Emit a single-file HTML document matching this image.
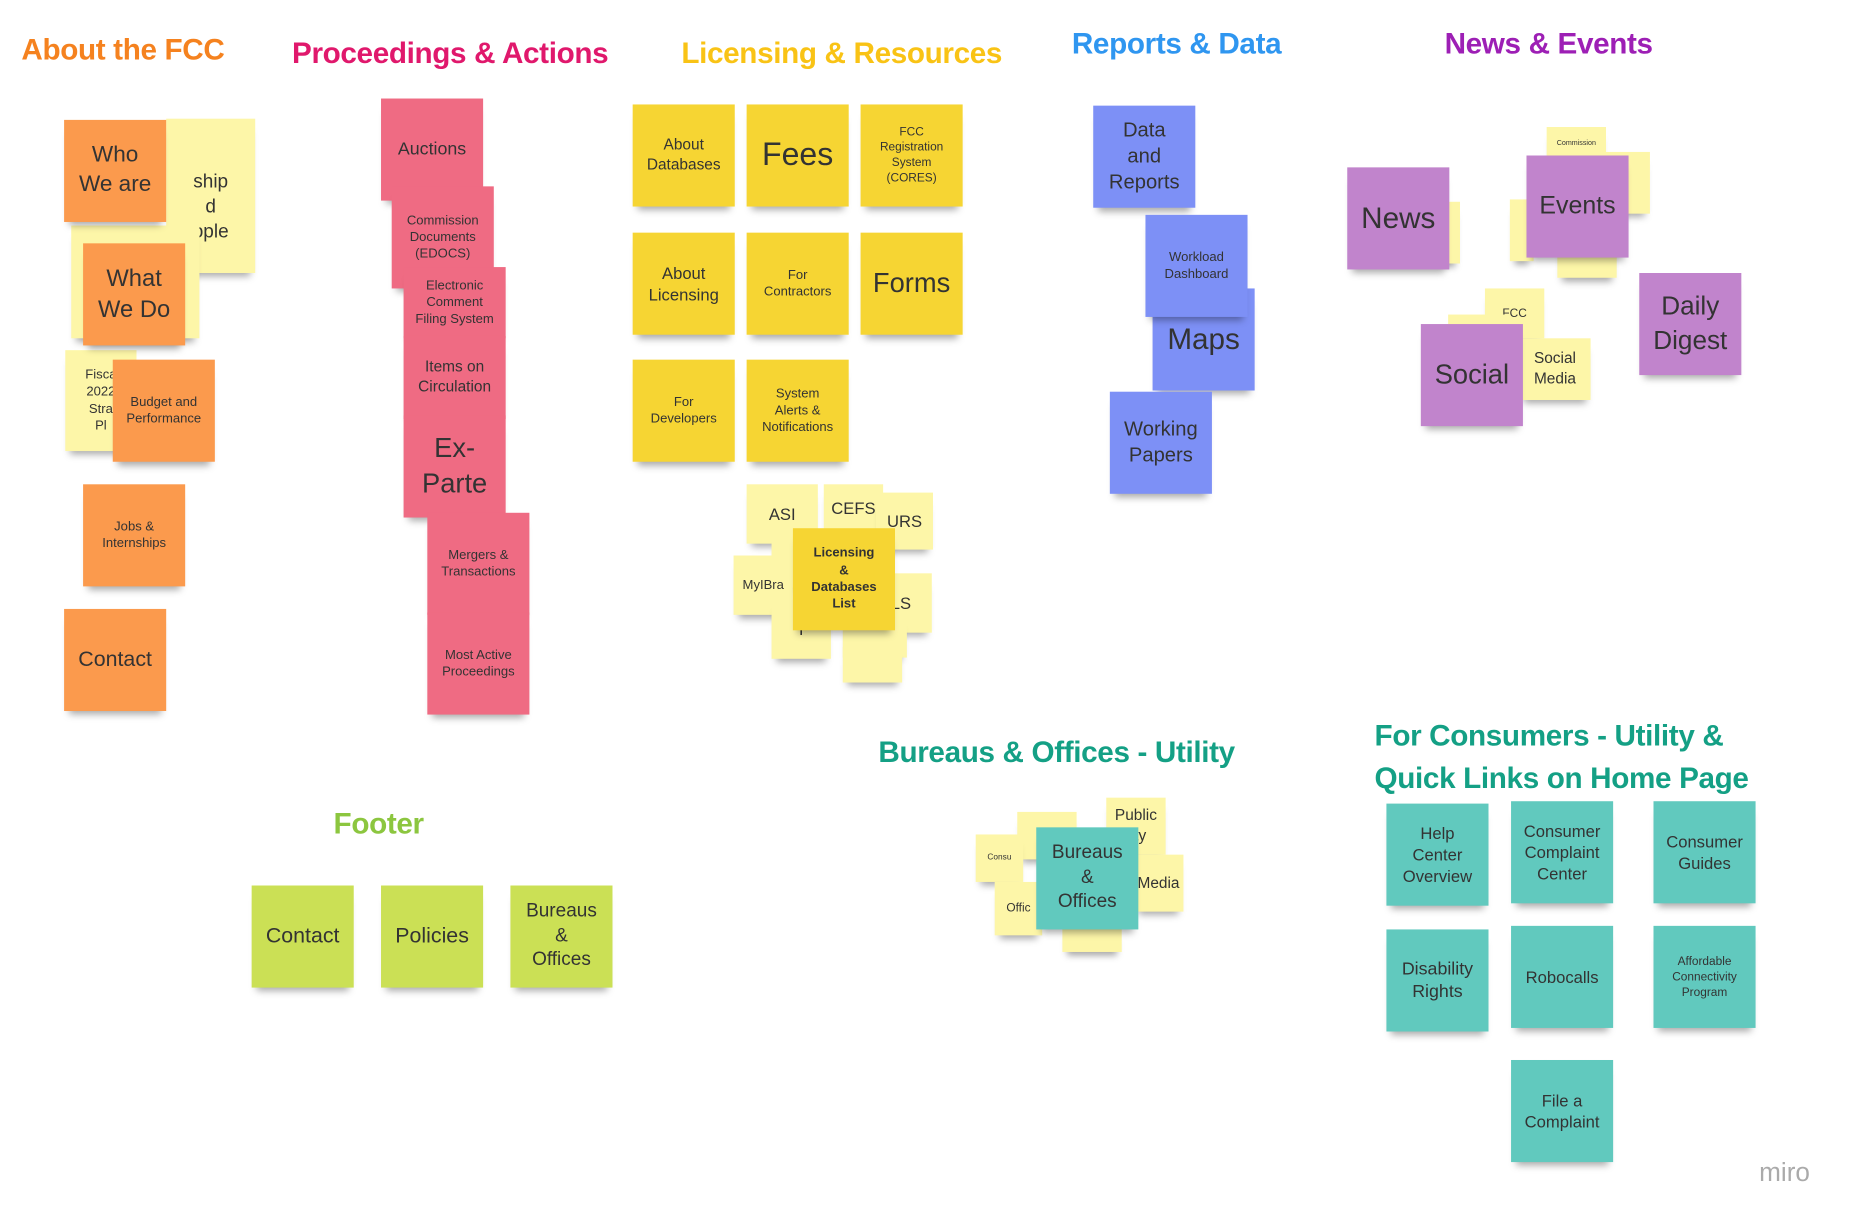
<!DOCTYPE html>
<html><head><meta charset="utf-8">
<style>
html,body{margin:0;padding:0;background:#fff;overflow:hidden;}
#board{position:absolute;left:0;top:0;width:1570px;height:1035px;transform:scale(1.187);transform-origin:0 0;font-family:"Liberation Sans",sans-serif;}
.t{position:absolute;font-weight:bold;font-size:25px;white-space:nowrap;letter-spacing:-0.3px;}
.n{position:absolute;display:flex;align-items:center;justify-content:center;text-align:center;color:#333;box-shadow:0 7px 6px -4px rgba(0,0,0,.35);line-height:1.3;overflow:hidden;box-sizing:border-box;padding:2px;}
.miro{position:absolute;left:1482px;top:975px;font-size:22px;color:#aaa;}
</style></head><body>
<div id="board">
<div class="t" style="left:18px;top:28px;color:#f5821f">About the FCC</div>
<div class="t" style="left:246px;top:31px;color:#e0186c">Proceedings &amp; Actions</div>
<div class="t" style="left:574px;top:31px;color:#f9c315">Licensing &amp; Resources</div>
<div class="t" style="left:903px;top:23px;color:#2f96f0">Reports &amp; Data</div>
<div class="t" style="left:1217px;top:23px;color:#9d1fb5">News &amp; Events</div>
<div class="t" style="left:740px;top:620px;color:#14a085">Bureaus &amp; Offices - Utility</div>
<div class="t" style="left:1158px;top:602px;color:#14a085;line-height:36px">For Consumers - Utility &amp;<br>Quick Links on Home Page</div>
<div class="t" style="left:281px;top:680px;color:#8cc63f">Footer</div>
<div class="miro">miro</div>
</div>
<script>
var O='#fb9a4d',P='#ef6b83',Y='#f6d533',B='#7d90f6',U='#c184cc',T='#61c9be',G='#cbe055',L='#fdf6a8';
var notes=[
[140,100,75,130,L,'<br>ship<br>d<br>ople',16],
[60,190,108,95,L,'',12],
[55,295,60,85,L,'Fisca<br>2022<br>Stra<br>Pl',11],
[54,101,86,86,O,'Who<br>We are',19],
[70,205,86,86,O,'What<br>We Do',20],
[95,303,86,86,O,'Budget and<br>Performance',11],
[70,408,86,86,O,'Jobs &amp;<br>Internships',11],
[54,513,86,86,O,'Contact',18],
[321,83,86,86,P,'Auctions',15],
[330,157,86,86,P,'Commission<br>Documents<br>(EDOCS)',11],
[340,225,86,60,P,'Electronic<br>Comment<br>Filing System',11],
[340,283,86,70,P,'Items on<br>Circulation',13],
[340,350,86,86,P,'Ex-<br>Parte',23],
[360,432,86,86,P,'Mergers &amp;<br>Transactions',11],
[360,516,86,86,P,'Most Active<br>Proceedings',11],
[533,88,86,86,Y,'About<br>Databases',13],
[629,88,86,86,Y,'Fees',27],
[725,88,86,86,Y,'FCC<br>Registration<br>System<br>(CORES)',10],
[533,196,86,86,Y,'About<br>Licensing',14],
[629,196,86,86,Y,'For<br>Contractors',11],
[725,196,86,86,Y,'Forms',23],
[533,303,86,86,Y,'For<br>Developers',11],
[629,303,86,86,Y,'System<br>Alerts &amp;<br>Notifications',11],
[629,408,60,50,L,'ASI',14],
[694,408,50,40,L,'CEFS',14],
[738,415,48,48,L,'URS',14],
[650,450,50,45,L,'N',14],
[618,468,50,50,L,'MyIBra',11],
[733,483,52,50,L,'LS',14],
[650,505,50,50,L,'T',14],
[710,520,54,34,L,'',10],
[710,545,50,30,L,'',10],
[668,445,86,86,Y,'<b>Licensing<br>&amp;<br>Databases<br>List</b>',11],
[921,89,86,86,B,'Data<br>and<br>Reports',17],
[971,243,86,86,B,'Maps',25],
[965,181,86,86,B,'Workload<br>Dashboard',11],
[935,330,86,86,B,'Working<br>Papers',17],
[1210,170,20,52,L,'',9],
[1135,141,86,86,U,'News',25],
[1303,107,50,30,L,'Commission',6],
[1340,128,50,52,L,'',8],
[1272,168,20,52,L,'',8],
[1312,190,50,44,L,'',8],
[1286,131,86,86,U,'Events',21],
[1381,230,86,86,U,'Daily<br>Digest',22],
[1251,243,50,42,L,'FCC',10],
[1220,265,50,30,L,'',9],
[1280,285,60,52,L,'Social<br>Media',13],
[1197,273,86,86,U,'Social',23],
[857,684,50,40,L,'',9],
[822,703,40,40,L,'Consu',7],
[932,672,50,48,L,'Public<br>ety',13],
[955,720,42,48,L,'Media',13],
[838,743,40,45,L,'Offic',10],
[895,780,50,22,L,'',9],
[873,697,86,86,T,'Bureaus<br>&amp;<br>Offices',16],
[1168,677,86,86,T,'Help<br>Center<br>Overview',14],
[1273,675,86,86,T,'Consumer<br>Complaint<br>Center',14],
[1393,675,86,86,T,'Consumer<br>Guides',14],
[1168,783,86,86,T,'Disability<br>Rights',15],
[1273,780,86,86,T,'Robocalls',14],
[1393,780,86,86,T,'Affordable<br>Connectivity<br>Program',10],
[1273,893,86,86,T,'File a<br>Complaint',14],
[212,746,86,86,G,'Contact',18],
[321,746,86,86,G,'Policies',18],
[430,746,86,86,G,'Bureaus<br>&amp;<br>Offices',16]
];
var board=document.getElementById('board');
notes.forEach(function(n,i){
  var d=document.createElement('div');
  d.className='n';
  d.style.left=n[0]+'px';d.style.top=n[1]+'px';d.style.width=n[2]+'px';d.style.height=n[3]+'px';
  d.style.background=n[4];d.style.fontSize=n[6]+'px';
  d.innerHTML=n[5];
  
  
  board.appendChild(d);
});
</script>
</body></html>
